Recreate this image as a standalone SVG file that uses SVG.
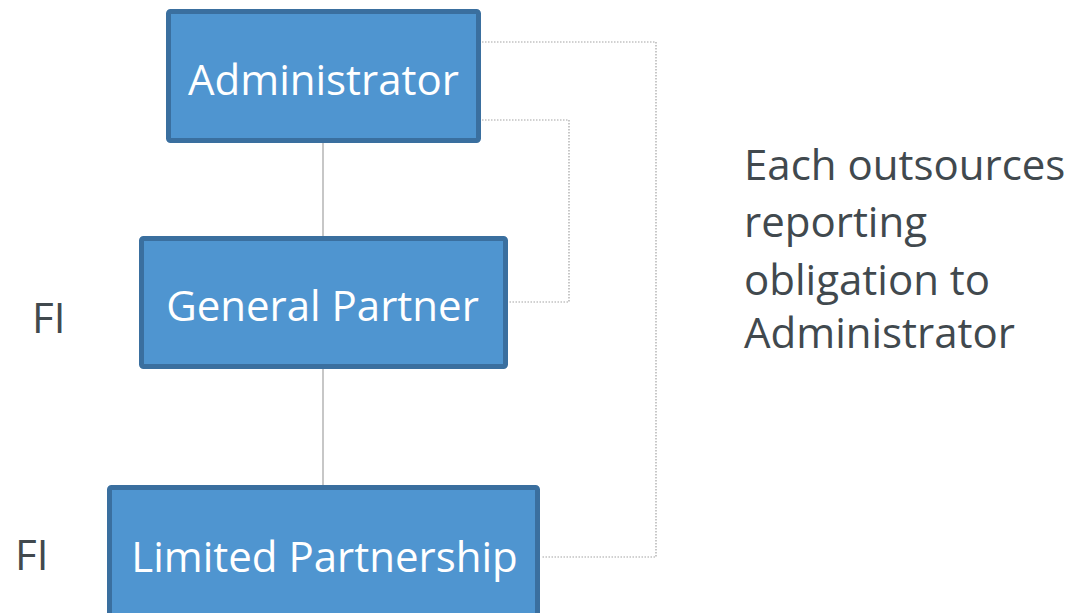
<svg xmlns="http://www.w3.org/2000/svg" width="1070" height="613" viewBox="0 0 1070 613">
  <style>
    .box { fill: #4f95d0; stroke: #3a6f9f; stroke-width: 5; }
    .label { font-family: "Open Sans", "Liberation Sans", sans-serif; font-size: 42px; fill: #ffffff; text-anchor: middle; }
    .note { font-family: "Open Sans", "Liberation Sans", sans-serif; font-size: 42px; fill: #41494e; }
    .solid { fill: none; stroke: #a9a9a9; stroke-width: 1.3; }
    .dotted { fill: none; stroke: #a3a3a3; stroke-width: 1.2; stroke-dasharray: 1.5 1.5; }
  </style>

  <rect width="1070" height="613" fill="#ffffff"/>

  <!-- connectors -->
  <g id="connectors">
    <line class="solid" x1="323" y1="143" x2="323" y2="236"/>
    <line class="solid" x1="323" y1="369" x2="323" y2="485"/>
    <polyline class="dotted" points="482,42 656,42 656,557 542,557"/>
    <polyline class="dotted" points="482,120 569,120 569,302 508,302"/>
  </g>

  <!-- nodes -->
  <g id="administrator">
    <rect class="box" x="168.5" y="11.5" width="310" height="129" rx="2"/>
    <text class="label" x="323.5" y="95">Administrator</text>
  </g>

  <g id="general-partner">
    <rect class="box" x="141.5" y="238.5" width="364" height="128" rx="2"/>
    <text class="label" x="322.5" y="321">General Partner</text>
  </g>

  <g id="limited-partnership">
    <rect class="box" x="109.5" y="487.5" width="428" height="140" rx="2"/>
    <text class="label" x="324.5" y="572">Limited Partnership</text>
  </g>

  <!-- side labels -->
  <g id="fi-general-partner">
    <text class="note" x="32" y="333">FI</text>
  </g>
  <g id="fi-limited-partnership">
    <text class="note" x="15" y="570">FI</text>
  </g>

  <g id="note">
    <text class="note" x="744" y="180">Each outsources</text>
    <text class="note" x="744" y="237">reporting</text>
    <text class="note" x="744" y="295">obligation to</text>
    <text class="note" x="744" y="348">Administrator</text>
  </g>
</svg>
